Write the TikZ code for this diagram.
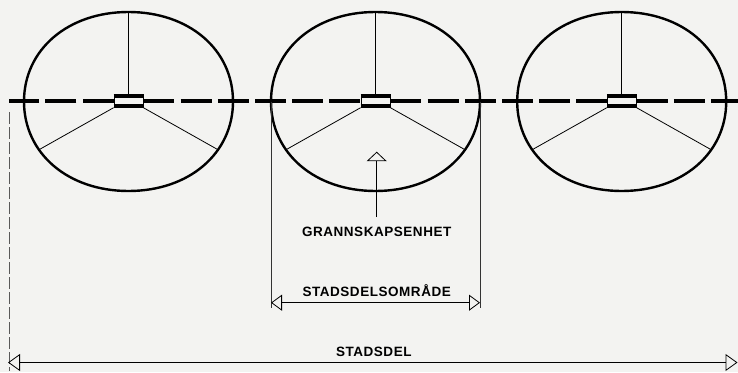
\documentclass[tikz,border=0pt]{standalone}
\usepackage{fontspec}
\setmainfont{Liberation Sans}
\newfontfamily\labfont[LetterSpace=4]{Liberation Sans}
\usetikzlibrary{arrows.meta,calc}
\definecolor{paper}{RGB}{243,243,241}
\tikzset{
  outline/.style={line width=2.4pt},
  thinline/.style={line width=0.8pt},
  cutline/.style={line width=4.2pt, dash pattern=on 31pt off 6.2pt},
  lab/.style={font={\labfont\bfseries\fontsize{13.5}{16}\selectfont}, inner sep=0pt, anchor=base},
  hubbox/.style={draw, line width=0.8pt, fill=paper, minimum width=29pt, minimum height=13pt, inner sep=0pt},
  dimA/.style={thinline, {Triangle[open,length=11pt,width=16pt]}-{Triangle[open,length=11pt,width=16pt]}},
  dimB/.style={thinline, {Triangle[open,length=12pt,width=17pt]}-{Triangle[open,length=12pt,width=17pt]}},
  nbhd/.pic={
    \pgfmathsetmacro\RA{104.5}
    \pgfmathsetmacro\RB{89.5}
    \pgfmathsetmacro\RK{0.58}
    \draw[outline] (\RA,0) coordinate (-e)
      .. controls (\RA,-\RK*\RB) and (\RK*\RA,-\RB) .. (0,-\RB) coordinate (-top)
      .. controls (-\RK*\RA,-\RB) and (-\RA,-\RK*\RB) .. (-\RA,0) coordinate (-w)
      .. controls (-\RA,\RK*\RB) and (-\RK*\RA,\RB) .. coordinate[pos=0.35] (-sl) (0,\RB)
      .. controls (\RK*\RA,\RB) and (\RA,\RK*\RB) .. coordinate[pos=0.65] (-sr) cycle;
    \node[hubbox] (-hub) at (0,-0.7) {};
    \draw[line width=3.8pt] ([yshift=-2pt]-hub.north west) -- ([yshift=-2pt]-hub.north east);
    \draw[line width=3.8pt] ([yshift=2.3pt]-hub.south west) -- ([yshift=2.3pt]-hub.south east);
    \draw[thinline] (-top) -- (-hub.north);
    \draw[thinline] (-hub.south west) -- (-sl);
    \draw[thinline] (-hub.south east) -- (-sr);
  }
}
\begin{document}
\begin{tikzpicture}[x=1pt,y=-1pt]
  \useasboundingbox[fill=paper] (0,0) rectangle (738,372);

  \pic (u1) at (128.5,101.5) {nbhd};
  \pic (u2) at (375.5,101.5) {nbhd};
  \pic (u3) at (621.7,101.5) {nbhd};

  % the dashed line through the units
  \coordinate (cutL) at (9.3,100.8);
  \coordinate (cutR) at (738,100.8);
  \draw[cutline] (u1-hub.west) -- (cutL);
  \draw[cutline] (u1-hub.east) -- (u2-hub.west);
  \draw[cutline] (u2-hub.east) -- (u3-hub.west);
  \draw[cutline] (u3-hub.east) -- (cutR);

  % labels
  \node[lab] (gran) at (376.7,236.7) {GRANNSKAPSENHET};
  \node[lab] (sdo) at (376.7,296.7) {STADSDELSOMRÅDE};
  \node[lab] (sd) at (373.8,356) {STADSDEL};

  % pointer to the neighbourhood unit
  \coordinate (uptip) at (376.7,151.7);
  \draw[thinline, -{Triangle[open,length=9.5pt,width=20pt]}] ([yshift=10pt]gran.north) -- (uptip);

  % dimension for the district area
  \coordinate (ydim) at (0,302.7);
  \coordinate (ybot) at (0,308);
  \draw[thinline, black!80] (u2-w) -- (u2-w |- ybot);
  \draw[thinline, black!80] (u2-e) -- (u2-e |- ybot);
  \draw[dimA] (u2-w |- ydim) -- (u2-e |- ydim);

  % dimension for the whole district
  \coordinate (lvTop) at (9,112);
  \coordinate (lvBot) at (9,371);
  \draw[thinline, black!65, dash pattern=on 12pt off 3pt] (lvTop) -- (lvBot);
  \coordinate (sdL) at (8,362.5);
  \coordinate (sdR) at (737.5,362.5);
  \draw[dimB] (sdL) -- (sdR);
\end{tikzpicture}
\end{document}
